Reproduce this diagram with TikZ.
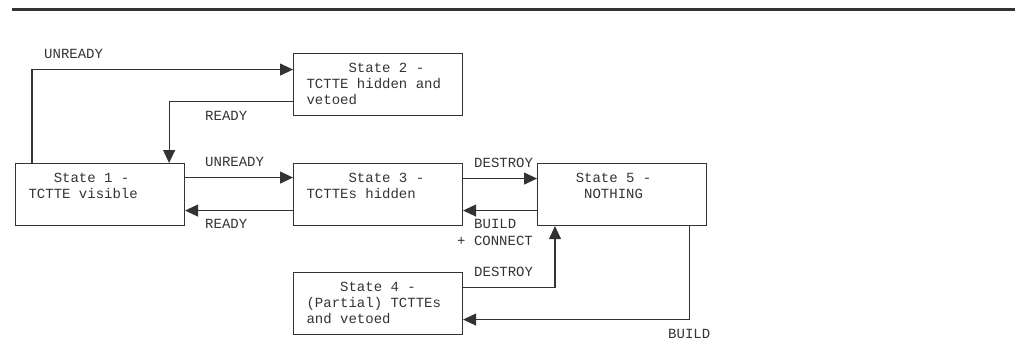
\documentclass[tikz,border=0pt]{standalone}
\usepackage{fontspec}
\setmonofont{Liberation Mono}
\usetikzlibrary{arrows.meta}
\newcommand{\stxt}[1]{\parbox[c][46pt][t]{143pt}{\raggedright\rule{0pt}{11pt}#1}}
\tikzstyle{statebox} = [rectangle, draw=black!80, line width=1.1pt, anchor=north west, inner xsep=13pt, inner ysep=8pt]
\tikzstyle{arrow} = [draw=black!80, line width=1.1pt, -{Triangle[length=13pt,width=12pt]}]
\tikzstyle{lbl} = [anchor=base west, inner sep=0pt]

\begin{document}
\begin{tikzpicture}[x=1pt,y=-1pt,font={\ttfamily\fontsize{14}{16}\selectfont},text=black!80]

    \useasboundingbox (0,0) rectangle (1015,343);
    \draw [black!80, line width=2.5pt] (12,9.5) -- (1015,9.5);

    % Nodes
    \node (s1) [statebox] at (15,163) {\stxt{\hphantom{000}State 1 -\\TCTTE visible}};
    \node (s2) [statebox] at (293,53) {\stxt{\hphantom{00000}State 2 -\\TCTTE hidden and\\vetoed}};
    \node (s3) [statebox] at (293,163) {\stxt{\hphantom{00000}State 3 -\\TCTTEs hidden}};
    \node (s5) [statebox] at (537,163) {\stxt{\hphantom{000}State 5 -\\\hphantom{0000}NOTHING}};
    \node (s4) [statebox] at (293,272) {\stxt{\hphantom{0000}State 4 -\\(Partial) TCTTEs\\and vetoed}};

    % Labels
    \node (unready1) [lbl] at (44,58) {UNREADY};
    \node (ready1) [lbl] at (205,120) {READY};
    \node (unready2) [lbl] at (205,166) {UNREADY};
    \node (ready2) [lbl] at (205,228) {READY};
    \node (destroy1) [lbl] at (474,167) {DESTROY};
    \node (build1) [lbl] at (474,228) {BUILD};
    \node (connect1) [lbl] at (457,245) {+ CONNECT};
    \node (destroy2) [lbl] at (474,276) {DESTROY};
    \node (build2) [lbl] at (668,338) {BUILD};

    % Arrows
    \draw [arrow] ([xshift=17pt]s1.north west) |- ([yshift=15pt]s2.west);
    \draw [arrow] ([yshift=-17pt]s2.west) -| ([xshift=-16pt]s1.north east);
    \draw [arrow] ([yshift=17pt]s1.east) -- ([yshift=17pt]s3.west);
    \draw [arrow] ([yshift=-16pt]s3.west) -- ([yshift=-16pt]s1.east);
    \draw [arrow] ([yshift=16pt]s3.east) -- ([yshift=16pt]s5.west);
    \draw [arrow] ([yshift=-16pt]s5.west) -- ([yshift=-16pt]s3.east);
    \draw [arrow] ([yshift=16pt]s4.east) -| ([xshift=18pt]s5.south west);
    \draw [arrow] ([xshift=-18pt]s5.south east) |- ([yshift=-16pt]s4.east);

\end{tikzpicture}
\end{document}
